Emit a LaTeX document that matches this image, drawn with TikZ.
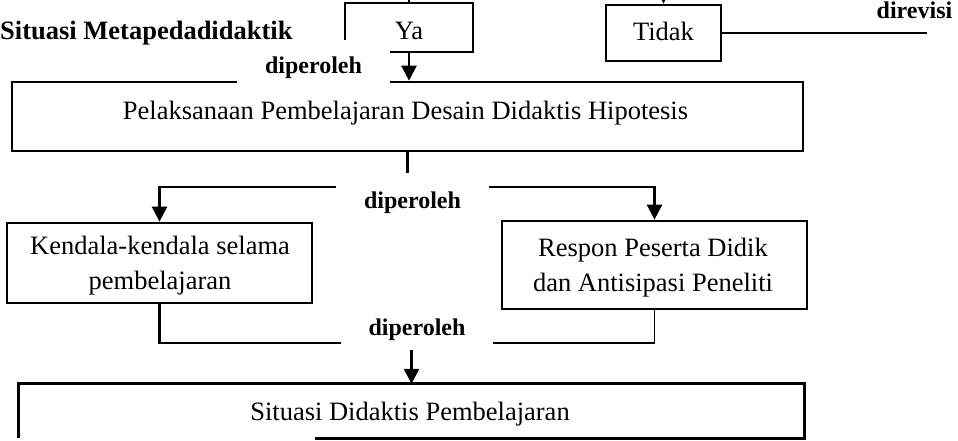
\documentclass[tikz,border=0pt]{standalone}
\usepackage{fontspec}
\setmainfont{Liberation Serif}
\usetikzlibrary{arrows.meta,calc}
\begin{document}
\begin{tikzpicture}[x=1pt,y=-1pt,
  boxnode/.style={draw,line width=2.7pt,inner sep=0pt},
  plainbox/.style={inner sep=0pt},
  body/.style={inner sep=0pt,font=\fontsize{26.5}{35}\selectfont},
  tag/.style={inner sep=0pt,fill=white,anchor=base,font=\fontsize{24}{28}\selectfont\bfseries},
  conn/.style={line width=2.5pt},
  thinconn/.style={line width=1.3pt},
  arr/.style={conn,-{Triangle[width=15pt,length=15pt]}}]
\path[use as bounding box] (0,0) rectangle (958,440);
\clip (0,0) rectangle (958,440);

% boxes
\node[boxnode,minimum width=128,minimum height=49] (ya) at (409,27.5) {};
\node[boxnode,minimum width=115,minimum height=56] (td) at (663.5,33) {};
\node[boxnode,minimum width=791,minimum height=69] (pel) at (407.5,116.5) {};
\node[boxnode,minimum width=305,minimum height=80] (kend) at (159.5,263) {};
\node[boxnode,minimum width=305,minimum height=88] (resp) at (654.5,265) {};
\node[plainbox,minimum width=785,minimum height=54] (sd) at (411.5,411) {};
\draw[line width=2.7pt] ($(sd.south west)+(296,0)$) -- (sd.south east) -- (sd.north east)
  -- (sd.north west) -- (sd.south west);

% free ends
\coordinate (yatop) at (409,-10);
\coordinate (tdtop) at (663.5,-30);
\coordinate (revend) at (927,33);
\coordinate (split) at (407.5,187);
\coordinate (join) at (411.5,343);

% connectors
\draw[conn] (yatop) -- (ya.north);
\draw[arr] (ya.south) -- (ya.south |- pel.north);
\draw[arr] (tdtop) -- (td.north);
\draw[conn] (td.east) -- (revend);
\draw[conn] (pel.south) -- (split);
\draw[arr] (split) -| (kend.north);
\draw[arr] (split) -| (resp.north);
\draw[conn] (kend.south) |- (join);
\draw[thinconn] (resp.south) |- (join);
\draw[arr] (join) -- (sd.north);

% labels with white ground
\node[tag,minimum width=153,text height=33,text depth=11] (lab1) at (313.5,73) {diperoleh};
\node[tag,minimum width=153,text height=35,text depth=7] (lab2) at (412.5,208) {diperoleh};
\node[tag,minimum width=152,text height=23,text depth=15] (lab3) at (417,335) {diperoleh};
\node[tag,fill=none] (lab4) at (914.5,18) {direvisi};

% texts
\node[body,anchor=base west,font=\fontsize{26.5}{35}\selectfont\bfseries] (meta) at (0,39) {Situasi Metapedadidaktik};
\node[body,anchor=base] (yat) at (409,39) {Ya};
\node[body,anchor=base] (tdt) at (663.5,40) {Tidak};
\node[body,anchor=base] (pelt) at (405.5,119) {Pelaksanaan Pembelajaran Desain Didaktis Hipotesis};
\node[body,align=center] (kendt) at (160,266) {Kendala-kendala selama\\pembelajaran};
\node[body,align=center] (respt) at (653,268) {Respon Peserta Didik\\dan Antisipasi Peneliti};
\node[body,anchor=base] (sdt) at (410,420) {Situasi Didaktis Pembelajaran};
\end{tikzpicture}
\end{document}
